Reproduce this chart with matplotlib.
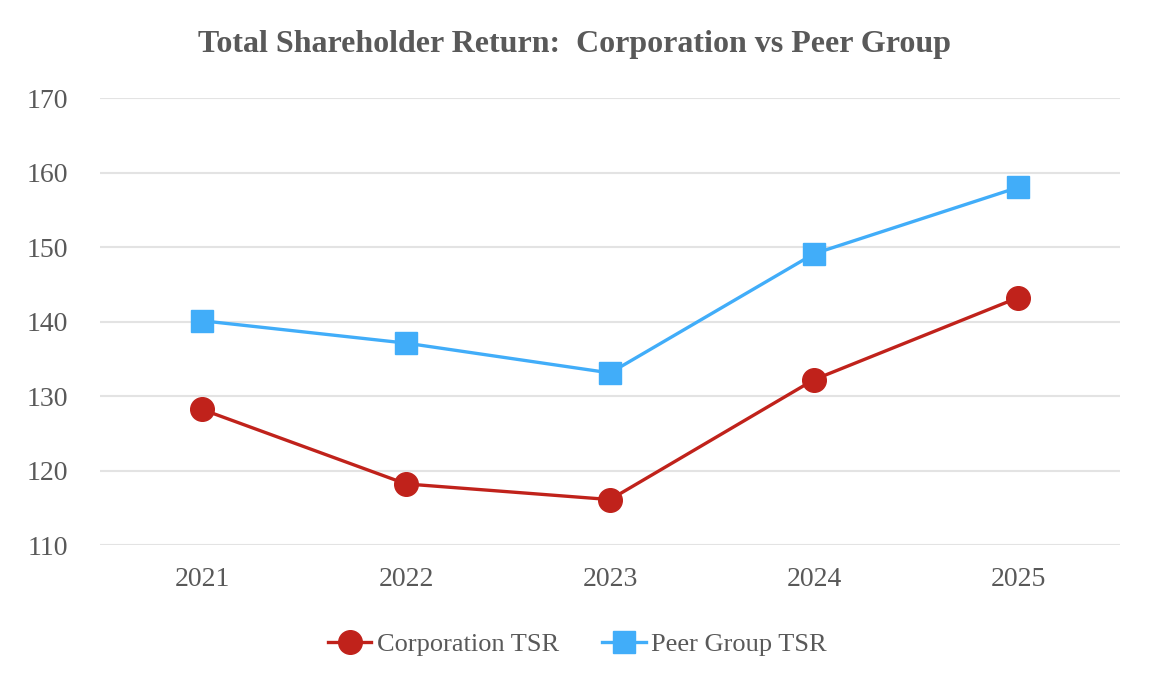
import matplotlib
matplotlib.use("Agg")
import matplotlib.pyplot as plt

years = ["2021", "2022", "2023", "2024", "2025"]
corp_tsr = [128.2, 118.2, 116.1, 132.2, 143.2]
peer_tsr = [140.1, 137.1, 133.1, 149.1, 158.0]
yticks = [110, 120, 130, 140, 150, 160, 170]

plt.rcParams['font.family'] = ['Liberation Serif', 'DejaVu Serif']

fig = plt.figure(figsize=(11.5, 7), dpi=100)
ax = fig.add_axes([0.087, 0.2214, 0.887, 0.6386])

x = range(len(years))
ax.plot(x, corp_tsr, color="#C0221B", lw=2.4, marker="o", ms=17,
        label="Corporation TSR", zorder=3)
ax.plot(x, peer_tsr, color="#41ADF9", lw=2.4, marker="s", ms=16,
        label="Peer Group TSR", zorder=3)

ax.set_xlim(-0.5, 4.5)
ax.set_ylim(110, 170)
ax.set_yticks(yticks)
ax.set_xticks(list(x))
ax.set_xticklabels(years)
ax.grid(axis="y", color="#E3E3E3", lw=1.5)
ax.set_axisbelow(True)
for s in ax.spines.values():
    s.set_visible(False)
ax.tick_params(length=0, labelsize=20, labelcolor="#595959")
ax.tick_params(axis="y", pad=23)
ax.tick_params(axis="x", pad=16)

fig.text(0.5, 0.936, "Total Shareholder Return:  Corporation vs Peer Group",
         ha="center", va="center", fontsize=23, fontweight="bold",
         color="#595959")

# legend centred on the figure, not on the axes
fig.legend(*ax.get_legend_handles_labels(), loc="center",
           bbox_to_anchor=(0.502, 0.079), ncol=2, frameon=False,
           fontsize=19, labelcolor="#595959", handlelength=1.65,
           handletextpad=0.2, columnspacing=1.65)

fig.savefig("out.png", dpi=100)
